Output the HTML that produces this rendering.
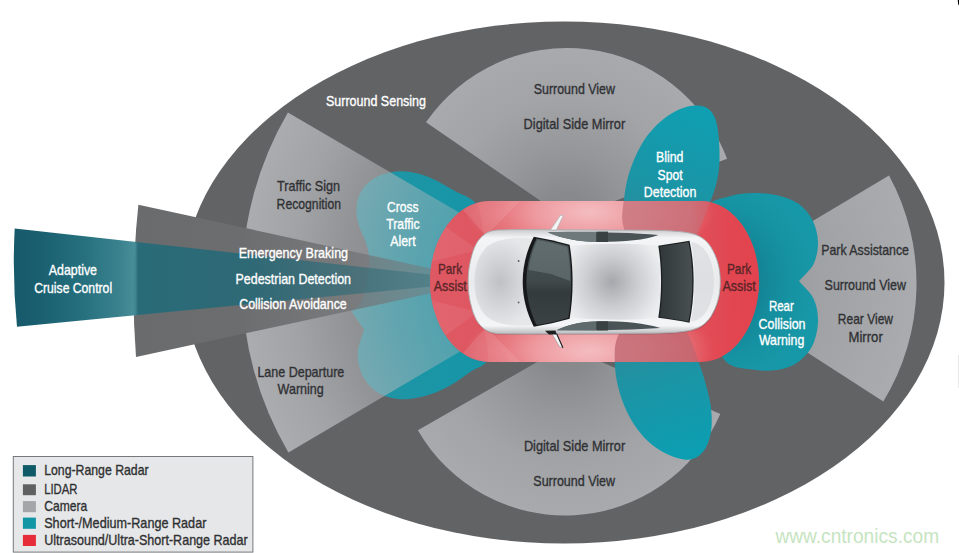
<!DOCTYPE html>
<html><head><meta charset="utf-8"><title>Automotive sensor coverage</title>
<style>html,body{margin:0;padding:0;background:#fff;}svg{display:block;}</style></head>
<body>
<svg width="959" height="553" viewBox="0 0 959 553">
<defs>
<radialGradient id="camF" gradientUnits="userSpaceOnUse" cx="578" cy="282" r="336">
 <stop offset="0.3" stop-color="#b6b8bb" stop-opacity="0.30"/>
 <stop offset="0.55" stop-color="#b6b8bb" stop-opacity="0.45"/>
 <stop offset="0.7" stop-color="#b6b8bb" stop-opacity="0.57"/>
 <stop offset="0.85" stop-color="#b6b8bb" stop-opacity="0.75"/>
 <stop offset="1" stop-color="#b6b8bb" stop-opacity="0.86"/>
</radialGradient>
<radialGradient id="camT" gradientUnits="userSpaceOnUse" cx="567" cy="219" r="171">
 <stop offset="0.15" stop-color="#b6b8bb" stop-opacity="0.45"/>
 <stop offset="0.4" stop-color="#b6b8bb" stop-opacity="0.61"/>
 <stop offset="0.7" stop-color="#b6b8bb" stop-opacity="0.76"/>
 <stop offset="1" stop-color="#b6b8bb" stop-opacity="0.83"/>
</radialGradient>
<radialGradient id="camB" gradientUnits="userSpaceOnUse" cx="565" cy="346" r="169.5">
 <stop offset="0.15" stop-color="#b6b8bb" stop-opacity="0.45"/>
 <stop offset="0.4" stop-color="#b6b8bb" stop-opacity="0.61"/>
 <stop offset="0.7" stop-color="#b6b8bb" stop-opacity="0.76"/>
 <stop offset="1" stop-color="#b6b8bb" stop-opacity="0.83"/>
</radialGradient>
<radialGradient id="camR" gradientUnits="userSpaceOnUse" cx="690.5" cy="283.5" r="226">
 <stop offset="0.3" stop-color="#b6b8bb" stop-opacity="0.6"/>
 <stop offset="0.55" stop-color="#b6b8bb" stop-opacity="0.73"/>
 <stop offset="1" stop-color="#b6b8bb" stop-opacity="0.85"/>
</radialGradient>
<linearGradient id="lidar" gradientUnits="userSpaceOnUse" x1="134" y1="0" x2="488" y2="0">
 <stop offset="0" stop-color="#6a6b6d" stop-opacity="1"/>
 <stop offset="0.3" stop-color="#6c6d6f" stop-opacity="1"/>
 <stop offset="0.45" stop-color="#6e6f71" stop-opacity="0.92"/>
 <stop offset="0.6" stop-color="#707173" stop-opacity="0.75"/>
 <stop offset="0.75" stop-color="#747577" stop-opacity="0.58"/>
 <stop offset="0.9" stop-color="#7a7b7d" stop-opacity="0.42"/>
 <stop offset="1" stop-color="#808183" stop-opacity="0.3"/>
</linearGradient>
<linearGradient id="beam" gradientUnits="userSpaceOnUse" x1="14" y1="0" x2="488" y2="0">
 <stop offset="0" stop-color="#16596a" stop-opacity="1"/>
 <stop offset="0.06" stop-color="#1a6070" stop-opacity="1"/>
 <stop offset="0.15" stop-color="#27717f" stop-opacity="1"/>
 <stop offset="0.225" stop-color="#37808c" stop-opacity="0.98"/>
 <stop offset="0.256" stop-color="#3f8995" stop-opacity="0.95"/>
 <stop offset="0.262" stop-color="#1e6b7a" stop-opacity="0.85"/>
 <stop offset="0.5" stop-color="#1f6877" stop-opacity="0.80"/>
 <stop offset="0.75" stop-color="#2a6a77" stop-opacity="0.55"/>
 <stop offset="1" stop-color="#3a6f7a" stop-opacity="0.25"/>
</linearGradient>
<linearGradient id="tealF" gradientUnits="userSpaceOnUse" x1="356" y1="0" x2="490" y2="0">
 <stop offset="0" stop-color="#1a9aab" stop-opacity="0.9"/>
 <stop offset="1" stop-color="#1496a8" stop-opacity="1"/>
</linearGradient>
<radialGradient id="pinkT" gradientUnits="userSpaceOnUse" cx="590" cy="212" r="125" gradientTransform="translate(590 212) scale(1 0.42) translate(-590 -212)">
 <stop offset="0" stop-color="#fff" stop-opacity="0.62"/>
 <stop offset="0.45" stop-color="#fff" stop-opacity="0.42"/>
 <stop offset="1" stop-color="#fff" stop-opacity="0"/>
</radialGradient>
<radialGradient id="pinkB" gradientUnits="userSpaceOnUse" cx="590" cy="351" r="125" gradientTransform="translate(590 351) scale(1 0.42) translate(-590 -351)">
 <stop offset="0" stop-color="#fff" stop-opacity="0.62"/>
 <stop offset="0.45" stop-color="#fff" stop-opacity="0.42"/>
 <stop offset="1" stop-color="#fff" stop-opacity="0"/>
</radialGradient>
<linearGradient id="redL" gradientUnits="userSpaceOnUse" x1="430" y1="0" x2="508" y2="0">
 <stop offset="0" stop-color="#d8a0a4" stop-opacity="0.22"/>
 <stop offset="0.6" stop-color="#d8a0a4" stop-opacity="0.18"/>
 <stop offset="1" stop-color="#d8a0a4" stop-opacity="0"/>
</linearGradient>
<linearGradient id="redR" gradientUnits="userSpaceOnUse" x1="690" y1="0" x2="758" y2="0">
 <stop offset="0" stop-color="#e63a46" stop-opacity="0"/>
 <stop offset="0.6" stop-color="#e63a46" stop-opacity="0.5"/>
 <stop offset="1" stop-color="#e63a46" stop-opacity="0.65"/>
</linearGradient>
<linearGradient id="lobeU" gradientUnits="userSpaceOnUse" x1="650" y1="240" x2="697" y2="107">
 <stop offset="0" stop-color="#2e8a98"/>
 <stop offset="0.4" stop-color="#1a95a6"/>
 <stop offset="1" stop-color="#0f9fb2"/>
</linearGradient>
<linearGradient id="lobeL" gradientUnits="userSpaceOnUse" x1="645" y1="323" x2="690" y2="459">
 <stop offset="0" stop-color="#2e8a98"/>
 <stop offset="0.45" stop-color="#1a95a6"/>
 <stop offset="1" stop-color="#0b9fb3"/>
</linearGradient>
<radialGradient id="lobeR" gradientUnits="userSpaceOnUse" cx="715" cy="281" r="105">
 <stop offset="0.35" stop-color="#0f6f7f" stop-opacity="0.55"/>
 <stop offset="0.75" stop-color="#0f6f7f" stop-opacity="0.12"/>
 <stop offset="1" stop-color="#0f6f7f" stop-opacity="0"/>
</radialGradient>
<radialGradient id="hood" gradientUnits="userSpaceOnUse" cx="500" cy="281.75" r="46" gradientTransform="translate(500 281.75) scale(0.8 1) translate(-500 -281.75)">
 <stop offset="0" stop-color="#bfc1c5"/>
 <stop offset="0.5" stop-color="#d3d4d7"/>
 <stop offset="1" stop-color="#e6e7e9"/>
</radialGradient>
<radialGradient id="roof" gradientUnits="userSpaceOnUse" cx="612" cy="281.75" r="52">
 <stop offset="0" stop-color="#a6a8ad"/>
 <stop offset="0.5" stop-color="#cdced1"/>
 <stop offset="1" stop-color="#ecedef"/>
</radialGradient>
<linearGradient id="body" x1="0" y1="0" x2="0" y2="1">
 <stop offset="0" stop-color="#c9cbce"/>
 <stop offset="0.08" stop-color="#f4f5f6"/>
 <stop offset="0.5" stop-color="#e9eaec"/>
 <stop offset="0.92" stop-color="#f4f5f6"/>
 <stop offset="1" stop-color="#b9bbbe"/>
</linearGradient>
<linearGradient id="wind" x1="0" y1="0" x2="0" y2="1">
 <stop offset="0" stop-color="#4a5557"/>
 <stop offset="0.5" stop-color="#3f484a"/>
 <stop offset="0.62" stop-color="#343b3d"/>
 <stop offset="1" stop-color="#3a4244"/>
</linearGradient>
<linearGradient id="rwin" x1="0" y1="0" x2="1" y2="0">
 <stop offset="0" stop-color="#31383a"/>
 <stop offset="1" stop-color="#485052"/>
</linearGradient>
<clipPath id="redclip"><path id="redp" d="M 490,201 L 700,201 C 735,201 759,240 759,281.5 C 759,323 735,362 700,362 L 490,362 C 455,362 430,323 430,281.5 C 430,240 455,201 490,201 Z"/></clipPath>
</defs>
<rect width="959" height="553" fill="#fff"/>
<ellipse cx="564" cy="282.5" rx="380.5" ry="261" fill="#626365"/>
<path d="M 484.0,236.0 C 481.6,225.5 482.2,212.1 476.7,204.4 C 471.7,197.4 462.2,195.1 454.0,190.5 C 444.7,185.3 433.6,178.4 423.5,175.3 C 414.6,172.5 405.5,170.8 397.0,171.5 C 388.7,172.2 379.2,175.0 372.9,179.1 C 367.4,182.6 363.0,187.9 360.3,193.0 C 357.8,197.7 356.8,202.9 356.5,208.2 C 356.2,213.9 357.5,220.4 359.0,226.0 C 360.5,231.3 363.6,235.9 365.3,241.0 C 366.9,245.9 368.5,250.3 369.0,256.0 C 369.6,263.4 368.6,273.9 367.0,282.0 C 365.5,289.5 363.2,297.8 360.0,303.0 C 357.6,306.9 354.3,308.7 351.4,311.6 L 364.0,329.4 C 361.9,337.4 357.8,345.5 357.7,353.4 C 357.6,361.1 359.3,369.6 362.8,376.2 C 366.2,382.7 372.0,388.9 378.0,392.7 C 383.8,396.4 391.0,398.3 398.2,399.0 C 406.1,399.8 415.2,398.5 423.5,396.5 C 432.1,394.4 440.9,390.5 448.9,386.3 C 456.9,382.1 464.8,375.6 471.6,371.1 C 477.2,367.4 484.2,366.4 486.8,361.0 C 490.4,353.6 484.9,338.3 484.0,327.0 Z" fill="url(#tealF)"/>
<path d="M 578.0,282.0 L 288.4,452.4 A 336.0,336.0 0 0 1 287.9,112.5 Z" fill="url(#camF)"/>
<path d="M 567.0,219.0 L 426.0,122.3 A 171.0,171.0 0 0 1 727.1,158.8 Z" fill="url(#camT)"/>
<path d="M 565.0,346.0 L 720.3,413.9 A 169.5,169.5 0 0 1 417.9,430.2 Z" fill="url(#camB)"/>
<path d="M 704,286 L 889,175.4 A 226,226 0 0 1 883.3,401.4 Z" fill="url(#camR)"/>
<path d="M 488,281 L 138.4,204.7 A 820,820 0 0 0 136,357 Z" fill="url(#lidar)"/>
<path d="M 488,281 L 14.7,228.4 A 650,650 0 0 0 17,326.8 Z" fill="url(#beam)"/>
<path d="M 655.0,252.0 C 646.7,248.0 635.4,245.7 630.0,240.0 C 625.5,235.2 623.6,228.3 622.5,222.0 C 621.4,215.5 622.9,208.5 623.7,201.3 C 624.6,193.5 625.9,184.7 628.0,176.9 C 630.1,169.3 632.9,162.0 636.1,155.1 C 639.2,148.4 642.8,141.8 647.0,136.1 C 651.0,130.7 655.6,125.8 660.6,121.5 C 665.6,117.3 671.6,113.2 676.9,110.6 C 681.4,108.4 686.1,106.8 690.0,106.0 C 692.9,105.4 695.3,105.3 698.0,105.6 C 700.9,105.9 704.2,106.4 706.7,107.8 C 709.2,109.2 711.4,111.5 713.0,114.0 C 714.8,116.8 715.8,120.0 716.8,124.0 C 718.2,129.5 718.8,137.4 719.2,144.3 C 719.6,151.4 719.8,159.0 719.2,166.0 C 718.7,172.6 717.5,179.0 716.0,185.0 C 714.6,190.7 712.7,195.3 710.5,201.3 C 707.8,208.7 704.7,217.9 701.0,226.0 C 697.2,234.2 693.8,244.6 688.0,250.0 C 683.1,254.6 675.7,257.9 670.0,258.0 C 664.8,258.1 660.0,254.0 655.0,252.0 Z" fill="url(#lobeU)"/>
<path d="M 648.0,312.0 C 640.7,316.0 631.4,318.8 626.0,324.0 C 621.4,328.5 618.4,334.3 616.5,340.0 C 614.6,345.6 614.7,351.6 614.7,358.0 C 614.7,365.4 615.4,374.2 617.0,382.0 C 618.6,389.8 621.0,397.6 624.0,405.0 C 627.0,412.3 630.6,419.6 635.0,426.0 C 639.3,432.2 644.4,438.2 650.0,443.0 C 655.4,447.7 662.0,451.7 668.0,454.5 C 673.3,457.0 679.2,459.0 684.0,459.5 C 687.7,459.9 691.0,459.6 694.0,458.5 C 697.0,457.4 699.7,455.4 702.0,453.0 C 704.5,450.4 706.5,446.8 708.0,443.0 C 709.8,438.6 710.9,433.4 711.5,428.0 C 712.1,421.8 711.8,414.9 711.0,408.0 C 710.1,400.6 708.1,392.8 706.0,385.0 C 703.8,376.8 701.1,368.7 698.0,360.0 C 694.5,350.4 690.9,339.0 686.0,330.0 C 681.5,321.8 676.8,310.7 670.0,308.0 C 663.9,305.5 655.3,310.7 648.0,312.0 Z" fill="url(#lobeL)"/>
<path d="M 715.0,250.0 C 712.2,235.6 702.0,215.6 706.7,206.7 C 710.3,199.8 722.9,198.2 731.0,195.9 C 738.3,193.8 745.2,193.2 752.9,193.1 C 761.4,193.0 771.9,193.8 780.0,195.9 C 787.0,197.7 793.6,200.0 799.0,204.0 C 804.5,208.1 809.4,214.1 812.6,220.3 C 815.8,226.7 817.8,234.7 818.0,242.0 C 818.2,249.2 816.8,257.2 813.7,263.7 C 810.5,270.3 803.9,275.3 799.0,281.1 C 803.9,287.1 810.5,292.3 813.7,299.0 C 816.8,305.5 818.1,313.3 818.0,320.7 C 817.9,328.6 816.0,338.2 812.6,345.2 C 809.4,351.6 804.5,357.3 799.0,361.4 C 793.6,365.4 787.1,368.1 780.0,369.6 C 771.9,371.3 761.8,370.9 752.9,369.6 C 743.7,368.2 732.0,368.0 725.7,361.4 C 718.0,353.4 718.6,333.8 715.0,320.0 Z" fill="#1798a8"/>
<path d="M 715.0,250.0 C 712.2,235.6 702.0,215.6 706.7,206.7 C 710.3,199.8 722.9,198.2 731.0,195.9 C 738.3,193.8 745.2,193.2 752.9,193.1 C 761.4,193.0 771.9,193.8 780.0,195.9 C 787.0,197.7 793.6,200.0 799.0,204.0 C 804.5,208.1 809.4,214.1 812.6,220.3 C 815.8,226.7 817.8,234.7 818.0,242.0 C 818.2,249.2 816.8,257.2 813.7,263.7 C 810.5,270.3 803.9,275.3 799.0,281.1 C 803.9,287.1 810.5,292.3 813.7,299.0 C 816.8,305.5 818.1,313.3 818.0,320.7 C 817.9,328.6 816.0,338.2 812.6,345.2 C 809.4,351.6 804.5,357.3 799.0,361.4 C 793.6,365.4 787.1,368.1 780.0,369.6 C 771.9,371.3 761.8,370.9 752.9,369.6 C 743.7,368.2 732.0,368.0 725.7,361.4 C 718.0,353.4 718.6,333.8 715.0,320.0 Z" fill="url(#lobeR)"/>
<use href="#redp" fill="#e8505a" fill-opacity="0.95"/>
<g clip-path="url(#redclip)">
<path d="M 484.0,236.0 C 481.6,225.5 482.2,212.1 476.7,204.4 C 471.7,197.4 462.2,195.1 454.0,190.5 C 444.7,185.3 433.6,178.4 423.5,175.3 C 414.6,172.5 405.5,170.8 397.0,171.5 C 388.7,172.2 379.2,175.0 372.9,179.1 C 367.4,182.6 363.0,187.9 360.3,193.0 C 357.8,197.7 356.8,202.9 356.5,208.2 C 356.2,213.9 357.5,220.4 359.0,226.0 C 360.5,231.3 363.6,235.9 365.3,241.0 C 366.9,245.9 368.5,250.3 369.0,256.0 C 369.6,263.4 368.6,273.9 367.0,282.0 C 365.5,289.5 363.2,297.8 360.0,303.0 C 357.6,306.9 354.3,308.7 351.4,311.6 L 364.0,329.4 C 361.9,337.4 357.8,345.5 357.7,353.4 C 357.6,361.1 359.3,369.6 362.8,376.2 C 366.2,382.7 372.0,388.9 378.0,392.7 C 383.8,396.4 391.0,398.3 398.2,399.0 C 406.1,399.8 415.2,398.5 423.5,396.5 C 432.1,394.4 440.9,390.5 448.9,386.3 C 456.9,382.1 464.8,375.6 471.6,371.1 C 477.2,367.4 484.2,366.4 486.8,361.0 C 490.4,353.6 484.9,338.3 484.0,327.0 Z" fill="#df3040" fill-opacity="0.38"/>
<rect x="430" y="190" width="330" height="100" fill="url(#pinkT)"/>
<rect x="430" y="272" width="330" height="100" fill="url(#pinkB)"/>
<path d="M 655.0,252.0 C 646.7,248.0 635.4,245.7 630.0,240.0 C 625.5,235.2 623.6,228.3 622.5,222.0 C 621.4,215.5 622.9,208.5 623.7,201.3 C 624.6,193.5 625.9,184.7 628.0,176.9 C 630.1,169.3 632.9,162.0 636.1,155.1 C 639.2,148.4 642.8,141.8 647.0,136.1 C 651.0,130.7 655.6,125.8 660.6,121.5 C 665.6,117.3 671.6,113.2 676.9,110.6 C 681.4,108.4 686.1,106.8 690.0,106.0 C 692.9,105.4 695.3,105.3 698.0,105.6 C 700.9,105.9 704.2,106.4 706.7,107.8 C 709.2,109.2 711.4,111.5 713.0,114.0 C 714.8,116.8 715.8,120.0 716.8,124.0 C 718.2,129.5 718.8,137.4 719.2,144.3 C 719.6,151.4 719.8,159.0 719.2,166.0 C 718.7,172.6 717.5,179.0 716.0,185.0 C 714.6,190.7 712.7,195.3 710.5,201.3 C 707.8,208.7 704.7,217.9 701.0,226.0 C 697.2,234.2 693.8,244.6 688.0,250.0 C 683.1,254.6 675.7,257.9 670.0,258.0 C 664.8,258.1 660.0,254.0 655.0,252.0 Z" fill="#c6727b" fill-opacity="0.78"/>
<path d="M 648.0,312.0 C 640.7,316.0 631.4,318.8 626.0,324.0 C 621.4,328.5 618.4,334.3 616.5,340.0 C 614.6,345.6 614.7,351.6 614.7,358.0 C 614.7,365.4 615.4,374.2 617.0,382.0 C 618.6,389.8 621.0,397.6 624.0,405.0 C 627.0,412.3 630.6,419.6 635.0,426.0 C 639.3,432.2 644.4,438.2 650.0,443.0 C 655.4,447.7 662.0,451.7 668.0,454.5 C 673.3,457.0 679.2,459.0 684.0,459.5 C 687.7,459.9 691.0,459.6 694.0,458.5 C 697.0,457.4 699.7,455.4 702.0,453.0 C 704.5,450.4 706.5,446.8 708.0,443.0 C 709.8,438.6 710.9,433.4 711.5,428.0 C 712.1,421.8 711.8,414.9 711.0,408.0 C 710.1,400.6 708.1,392.8 706.0,385.0 C 703.8,376.8 701.1,368.7 698.0,360.0 C 694.5,350.4 690.9,339.0 686.0,330.0 C 681.5,321.8 676.8,310.7 670.0,308.0 C 663.9,305.5 655.3,310.7 648.0,312.0 Z" fill="#c06670" fill-opacity="0.78"/>
<rect x="690" y="195" width="70" height="175" fill="url(#redR)"/>
<rect x="428" y="195" width="80" height="175" fill="url(#redL)"/>
<path d="M 478,250 L 430,215 L 430,262 Z" fill="#fff" fill-opacity="0.07"/>
<path d="M 478,312 L 430,347 L 430,300 Z" fill="#fff" fill-opacity="0.07"/>
<path d="M 486,236 L 455,201 L 520,201 Z" fill="#fff" fill-opacity="0.10"/>
<path d="M 486,327 L 455,362 L 520,362 Z" fill="#fff" fill-opacity="0.10"/>
</g>
<path d="M 468.2,281.8 C 468.2,272.0 469.3,265.0 470.9,258.9 C 472.3,253.0 474.0,248.0 476.3,243.7 C 478.6,239.5 481.5,236.5 485.0,234.0 C 488.5,231.7 492.5,230.4 496.9,230.1 C 505.0,229.7 515.0,229.6 525.0,229.6 L 650.0,230.3 C 670.0,230.6 682.0,231.3 692.0,233.6 C 701.0,236.0 706.0,240.0 710.7,246.7 C 717.0,257.0 720.3,268.0 720.3,281.8 C 720.3,295.5 717.0,306.5 710.7,316.8 C 706.0,323.5 701.0,327.5 692.0,329.9 C 682.0,332.2 670.0,332.9 650.0,333.2 L 525.0,333.9 C 515.0,333.9 505.0,333.8 496.9,333.4 C 492.5,333.1 488.5,331.8 485.0,329.5 C 481.5,327.0 478.6,324.0 476.3,319.8 C 474.0,315.5 472.3,310.5 470.9,304.6 C 469.3,298.5 468.2,291.5 468.2,281.8 Z" fill="#6b4a50" fill-opacity="0.30" transform="translate(0.6,1.2)"/>
<path d="M 468.2,281.8 C 468.2,272.0 469.3,265.0 470.9,258.9 C 472.3,253.0 474.0,248.0 476.3,243.7 C 478.6,239.5 481.5,236.5 485.0,234.0 C 488.5,231.7 492.5,230.4 496.9,230.1 C 505.0,229.7 515.0,229.6 525.0,229.6 L 650.0,230.3 C 670.0,230.6 682.0,231.3 692.0,233.6 C 701.0,236.0 706.0,240.0 710.7,246.7 C 717.0,257.0 720.3,268.0 720.3,281.8 C 720.3,295.5 717.0,306.5 710.7,316.8 C 706.0,323.5 701.0,327.5 692.0,329.9 C 682.0,332.2 670.0,332.9 650.0,333.2 L 525.0,333.9 C 515.0,333.9 505.0,333.8 496.9,333.4 C 492.5,333.1 488.5,331.8 485.0,329.5 C 481.5,327.0 478.6,324.0 476.3,319.8 C 474.0,315.5 472.3,310.5 470.9,304.6 C 469.3,298.5 468.2,291.5 468.2,281.8 Z" fill="url(#body)" stroke="#a9abae" stroke-width="0.9"/>
<path d="M 533,238.5 C 515,236.5 496,238.5 486,247.5 C 478,256 474.5,268 474.5,281.75 C 474.5,295.5 478,307.5 486,316 C 496,325 515,327 533,325 C 520.5,298 520.5,265.5 533,238.5 Z" fill="url(#hood)"/>
<path d="M 570,246 C 600,243 640,243 659.5,246 C 663,268 663,295.5 659.5,317.5 C 640,320.5 600,320.5 570,317.5 C 573.5,293 573.5,270 570,246 Z" fill="url(#roof)"/>
<path d="M 691,242 C 700,243 707,250 711,262 C 713.5,270 714,276 714,281.75 C 714,287.5 713.5,293.5 711,301.5 C 707,313.5 700,320.5 691,321.5 C 696,296 696,267 691,242 Z" fill="#d9dadd" fill-opacity="0.7"/>
<path d="M 547.7,232.2 C 580,231.6 630,232.2 658.5,235 C 645,240 625,241.9 600,241.9 C 580,241.9 562,238.5 547.7,232.2 Z" fill="#4a5456"/>
<path d="M 547.7,232.2 C 565,231.8 580,231.7 596,231.8 L 596,241.9 C 578,241.6 562,238.5 547.7,232.2 Z" fill="#6d797b"/>
<rect x="596.5" y="231.6" width="11.5" height="10.4" fill="#3a4143"/>
<path d="M 556.6,330.2 C 590,330.6 630,330.2 660.3,328 C 645,323.2 625,321.3 600,321.3 C 585,321.3 568,324.5 556.6,330.2 Z" fill="#4a5456"/>
<path d="M 556.6,330.2 L 596,330.5 L 596,321.4 C 582,321.6 568,324.5 556.6,330.2 Z" fill="#5f6a6c"/>
<rect x="596.5" y="321.3" width="11.5" height="9.2" fill="#3a4143"/>
<path d="M 533.8,236.8 C 546,238.8 558,241.5 569.6,244.8 C 573.6,268 573.6,295.5 569.6,318.7 C 558,322 546,324.7 533.8,326.7 C 519,298 519,265.5 533.8,236.8 Z" fill="#161819"/>
<path d="M 536.6,238.4 C 547,240.2 558,242.7 568.4,245.8 C 572.2,268.5 572.2,295 568.4,317.7 C 558,320.8 547,323.3 536.6,325.1 C 523,297.5 523,266 536.6,238.4 Z" fill="url(#wind)"/>
<path d="M 537.5,240 C 547,241.7 557,244 567.3,247 C 569.5,259 570.3,270 570.2,281 L 551,274 L 528.5,270 C 530,259 533,249 537.5,240 Z" fill="#7c898b" fill-opacity="0.45"/>
<path d="M 658.3,245.7 C 668,244.3 680,242.5 689.5,240.8 C 695,266 695,297 689.5,322.7 C 680,321 668,319.2 658.3,317.8 C 662,295 662,268.5 658.3,245.7 Z" fill="#1d2021"/>
<path d="M 659.8,246.6 C 669,245.3 680,243.6 688.4,242.1 C 693.6,267 693.6,296.5 688.4,321.4 C 680,319.9 669,318.2 659.8,316.9 C 663.3,294.5 663.3,269 659.8,246.6 Z" fill="url(#rwin)"/>
<path d="M 550.4,230 L 560.3,215.6 L 563.6,215 L 556.4,230 Z" fill="#f3f4f5" stroke="#a5a7aa" stroke-width="0.6"/>
<path d="M 551.8,333.6 L 559.6,346.8 L 562.9,347.8 L 556.6,333.6 Z" fill="#f3f4f5" stroke="#8d8f92" stroke-width="0.5"/>
<path d="M 556.6,333.6 L 562.9,347.8" stroke="#1a1b1c" stroke-width="1.1" fill="none"/>
<path d="M 545,330.8 L 555.5,330.4 L 556.8,334.6 L 549,334.4 Z" fill="#1e2021"/>
<circle cx="518.6" cy="261" r="0.9" fill="#555"/><circle cx="518.6" cy="302.4" r="0.9" fill="#555"/>
<g font-family="'Liberation Sans', sans-serif" font-size="15">
<text x="326.0" y="106.0" textLength="100.0" lengthAdjust="spacingAndGlyphs" fill="#ffffff" stroke="#ffffff" stroke-width="0.35">Surround Sensing</text>
<text x="533.7" y="94.4" textLength="81.3" lengthAdjust="spacingAndGlyphs" fill="#303134" stroke="#303134" stroke-width="0.35">Surround View</text>
<text x="523.6" y="129.0" textLength="101.6" lengthAdjust="spacingAndGlyphs" fill="#303134" stroke="#303134" stroke-width="0.35">Digital Side Mirror</text>
<text x="277.1" y="191.4" textLength="62.9" lengthAdjust="spacingAndGlyphs" fill="#303134" stroke="#303134" stroke-width="0.35">Traffic Sign</text>
<text x="276.6" y="209.0" textLength="64.4" lengthAdjust="spacingAndGlyphs" fill="#303134" stroke="#303134" stroke-width="0.35">Recognition</text>
<text x="387.0" y="211.8" textLength="31.5" lengthAdjust="spacingAndGlyphs" fill="#ffffff" stroke="#ffffff" stroke-width="0.35">Cross</text>
<text x="386.3" y="228.8" textLength="33.2" lengthAdjust="spacingAndGlyphs" fill="#ffffff" stroke="#ffffff" stroke-width="0.35">Traffic</text>
<text x="390.2" y="246.0" textLength="25.4" lengthAdjust="spacingAndGlyphs" fill="#ffffff" stroke="#ffffff" stroke-width="0.35">Alert</text>
<text x="656.1" y="162.2" textLength="27.3" lengthAdjust="spacingAndGlyphs" fill="#ffffff" stroke="#ffffff" stroke-width="0.35">Blind</text>
<text x="657.6" y="179.5" textLength="25.0" lengthAdjust="spacingAndGlyphs" fill="#ffffff" stroke="#ffffff" stroke-width="0.35">Spot</text>
<text x="643.8" y="196.9" textLength="52.5" lengthAdjust="spacingAndGlyphs" fill="#ffffff" stroke="#ffffff" stroke-width="0.35">Detection</text>
<text x="238.7" y="258.0" textLength="109.4" lengthAdjust="spacingAndGlyphs" fill="#ffffff" stroke="#ffffff" stroke-width="0.35">Emergency Braking</text>
<text x="235.5" y="284.2" textLength="115.5" lengthAdjust="spacingAndGlyphs" fill="#ffffff" stroke="#ffffff" stroke-width="0.35">Pedestrian Detection</text>
<text x="239.2" y="309.2" textLength="107.6" lengthAdjust="spacingAndGlyphs" fill="#ffffff" stroke="#ffffff" stroke-width="0.35">Collision Avoidance</text>
<text x="48.8" y="275.4" textLength="48.2" lengthAdjust="spacingAndGlyphs" fill="#ffffff" stroke="#ffffff" stroke-width="0.35">Adaptive</text>
<text x="34.2" y="293.2" textLength="77.9" lengthAdjust="spacingAndGlyphs" fill="#ffffff" stroke="#ffffff" stroke-width="0.35">Cruise Control</text>
<text x="437.9" y="273.8" textLength="24.1" lengthAdjust="spacingAndGlyphs" fill="#5a2528" stroke="#5a2528" stroke-width="0.35">Park</text>
<text x="433.8" y="291.2" textLength="33.0" lengthAdjust="spacingAndGlyphs" fill="#5a2528" stroke="#5a2528" stroke-width="0.35">Assist</text>
<text x="726.9" y="273.9" textLength="24.4" lengthAdjust="spacingAndGlyphs" fill="#5a2528" stroke="#5a2528" stroke-width="0.35">Park</text>
<text x="722.4" y="291.3" textLength="33.4" lengthAdjust="spacingAndGlyphs" fill="#5a2528" stroke="#5a2528" stroke-width="0.35">Assist</text>
<text x="768.9" y="311.3" textLength="24.9" lengthAdjust="spacingAndGlyphs" fill="#ffffff" stroke="#ffffff" stroke-width="0.35">Rear</text>
<text x="758.5" y="328.8" textLength="47.0" lengthAdjust="spacingAndGlyphs" fill="#ffffff" stroke="#ffffff" stroke-width="0.35">Collision</text>
<text x="758.9" y="345.4" textLength="45.4" lengthAdjust="spacingAndGlyphs" fill="#ffffff" stroke="#ffffff" stroke-width="0.35">Warning</text>
<text x="821.2" y="254.6" textLength="87.8" lengthAdjust="spacingAndGlyphs" fill="#303134" stroke="#303134" stroke-width="0.35">Park Assistance</text>
<text x="824.6" y="289.6" textLength="81.3" lengthAdjust="spacingAndGlyphs" fill="#303134" stroke="#303134" stroke-width="0.35">Surround View</text>
<text x="837.8" y="324.0" textLength="55.2" lengthAdjust="spacingAndGlyphs" fill="#303134" stroke="#303134" stroke-width="0.35">Rear View</text>
<text x="848.5" y="341.8" textLength="34.3" lengthAdjust="spacingAndGlyphs" fill="#303134" stroke="#303134" stroke-width="0.35">Mirror</text>
<text x="257.4" y="377.4" textLength="86.9" lengthAdjust="spacingAndGlyphs" fill="#303134" stroke="#303134" stroke-width="0.35">Lane Departure</text>
<text x="277.6" y="394.4" textLength="46.2" lengthAdjust="spacingAndGlyphs" fill="#303134" stroke="#303134" stroke-width="0.35">Warning</text>
<text x="523.9" y="450.9" textLength="101.3" lengthAdjust="spacingAndGlyphs" fill="#303134" stroke="#303134" stroke-width="0.35">Digital Side Mirror</text>
<text x="533.3" y="485.8" textLength="81.8" lengthAdjust="spacingAndGlyphs" fill="#303134" stroke="#303134" stroke-width="0.35">Surround View</text>
</g>
<rect x="13.3" y="456.5" width="239.6" height="95.6" fill="#e6e7e8" stroke="#77787b" stroke-width="1"/>
<g font-family="'Liberation Sans', sans-serif" font-size="15">
<rect x="22.9" y="465.1" width="13" height="11.4" fill="#0f5a68"/>
<text x="44.2" y="475.4" textLength="104.4" lengthAdjust="spacingAndGlyphs" fill="#2f3032" stroke="#2f3032" stroke-width="0.35">Long-Range Radar</text>
<rect x="22.9" y="484.3" width="13" height="10.9" fill="#5f6062"/>
<text x="44.2" y="494.4" textLength="33.2" lengthAdjust="spacingAndGlyphs" fill="#2f3032" stroke="#2f3032" stroke-width="0.35">LIDAR</text>
<rect x="22.9" y="501.1" width="13" height="11.1" fill="#a3a5a8"/>
<text x="44.2" y="510.6" textLength="43.0" lengthAdjust="spacingAndGlyphs" fill="#2f3032" stroke="#2f3032" stroke-width="0.35">Camera</text>
<rect x="22.9" y="517.6" width="13" height="11.2" fill="#1196a6"/>
<text x="44.2" y="528.1" textLength="162.2" lengthAdjust="spacingAndGlyphs" fill="#2f3032" stroke="#2f3032" stroke-width="0.35">Short-/Medium-Range Radar</text>
<rect x="22.9" y="534.9" width="13" height="11.1" fill="#e62c38"/>
<text x="44.2" y="545.2" textLength="203.5" lengthAdjust="spacingAndGlyphs" fill="#2f3032" stroke="#2f3032" stroke-width="0.35">Ultrasound/Ultra-Short-Range Radar</text>
</g>
<text x="775.4" y="543.4" textLength="163.7" lengthAdjust="spacingAndGlyphs" font-family="'Liberation Sans', sans-serif" font-size="20" fill="#c6e4c1">www.cntronics.com</text>
<path d="M 957.8,0 L 959,0 L 959,5.6 C 958.2,5 957.8,3 957.8,0 Z" fill="#000"/>
<rect x="958.2" y="355" width="0.8" height="33" fill="#e4e4e4"/>
</svg>
</body></html>
